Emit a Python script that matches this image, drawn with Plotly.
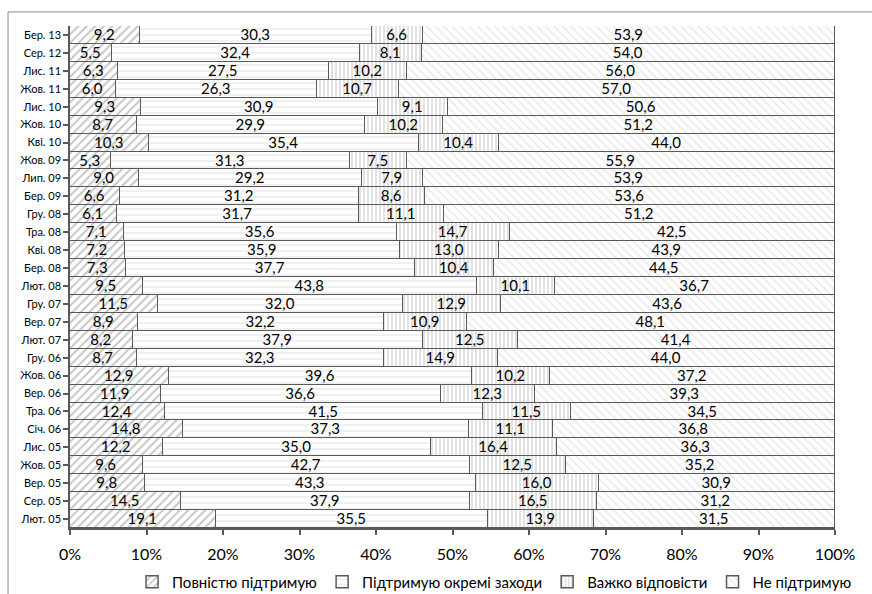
import plotly.graph_objects as go

categories = ["Лют. 05", "Сер. 05", "Вер. 05", "Жов. 05", "Лис. 05", "Січ. 06", "Тра. 06",
              "Вер. 06", "Жов. 06", "Гру. 06", "Лют. 07", "Вер. 07", "Гру. 07", "Лют. 08",
              "Бер. 08", "Кві. 08", "Тра. 08", "Гру. 08", "Бер. 09", "Лип. 09", "Жов. 09",
              "Кві. 10", "Жов. 10", "Лис. 10", "Жов. 11", "Лис. 11", "Сер. 12", "Бер. 13"]

full_support = [19.1, 14.5, 9.8, 9.6, 12.2, 14.8, 12.4, 11.9, 12.9, 8.7, 8.2, 8.9, 11.5, 9.5,
                7.3, 7.2, 7.1, 6.1, 6.6, 9.0, 5.3, 10.3, 8.7, 9.3, 6.0, 6.3, 5.5, 9.2]
partial_support = [35.5, 37.9, 43.3, 42.7, 35.0, 37.3, 41.5, 36.6, 39.6, 32.3, 37.9, 32.2, 32.0, 43.8,
                   37.7, 35.9, 35.6, 31.7, 31.2, 29.2, 31.3, 35.4, 29.9, 30.9, 26.3, 27.5, 32.4, 30.3]
hard_to_say = [13.9, 16.5, 16.0, 12.5, 16.4, 11.1, 11.5, 12.3, 10.2, 14.9, 12.5, 10.9, 12.9, 10.1,
               10.4, 13.0, 14.7, 11.1, 8.6, 7.9, 7.5, 10.4, 10.2, 9.1, 10.7, 10.2, 8.1, 6.6]
no_support = [31.5, 31.2, 30.9, 35.2, 36.3, 36.8, 34.5, 39.3, 37.2, 44.0, 41.4, 48.1, 43.6, 36.7,
              44.5, 43.9, 42.5, 51.2, 53.6, 53.9, 55.9, 44.0, 51.2, 50.6, 57.0, 56.0, 54.0, 53.9]

series_names = ["Повністю підтримую", "Підтримую окремі заходи", "Важко відповісти", "Не підтримую"]
series_values = [full_support, partial_support, hard_to_say, no_support]
patterns = [
    dict(shape="/", fgcolor="#8c8c8c", bgcolor="white", size=6, solidity=0.32, fillmode="overlay"),
    dict(shape="-", fgcolor="#bdbdbd", bgcolor="white", size=6, solidity=0.15, fillmode="overlay"),
    dict(shape="|", fgcolor="#8a8a8a", bgcolor="white", size=4, solidity=0.25, fillmode="overlay"),
    dict(shape="\\", fgcolor="#d8d8d8", bgcolor="white", size=6, solidity=0.3, fillmode="overlay"),
]

font_fam = "Lato, Carlito, sans-serif"

fig = go.Figure()
for name, vals, pat in zip(series_names, series_values, patterns):
    fig.add_trace(go.Bar(
        y=categories, x=vals, name=name, orientation="h",
        text=vals, texttemplate="%{text:.1f}", textposition="inside",
        insidetextanchor="middle", textangle=0, constraintext="none",
        textfont=dict(family=font_fam, size=15, color="black"),
        marker=dict(color="white", pattern=pat, line=dict(color="#5a5a5a", width=1.5)),
    ))

fig.update_layout(
    barmode="stack", barnorm="percent", bargap=0,
    width=872, height=594,
    margin=dict(l=70, r=37, t=26, b=66, autoexpand=False),
    paper_bgcolor="white", plot_bgcolor="white",
    separators=", ",
    font=dict(family=font_fam, color="black"),
    xaxis=dict(range=[0, 100], dtick=10, ticksuffix="%", showgrid=False, zeroline=False,
               showline=True, linecolor="#5a5a5a", linewidth=1.5,
               ticks="outside", ticklen=5, tickcolor="#5a5a5a", tickwidth=1.5,
               ticklabelstandoff=6,
               tickfont=dict(size=16, family=font_fam), automargin=False),
    yaxis=dict(showgrid=False, showline=True, linecolor="#5a5a5a", linewidth=1.5,
               ticks="outside", ticklen=5, tickcolor="#5a5a5a", tickwidth=1.5,
               tickfont=dict(size=11, family=font_fam), range=[-0.5, len(categories) - 0.5],
               automargin=False),
    legend=dict(orientation="h", x=0.555, xanchor="center", yref="container", y=0.02,
                yanchor="middle", font=dict(size=15, family=font_fam), traceorder="normal",
                itemwidth=30, tracegroupgap=0),
    shapes=[
        dict(type="line", xref="paper", yref="paper", x0=-0.081, x1=-0.081, y0=-0.2, y1=1.028,
             line=dict(color="#8a8a8a", width=1)),
        dict(type="line", xref="paper", yref="paper", x0=-0.081, x1=1.1, y0=1.028, y1=1.028,
             line=dict(color="#8a8a8a", width=1)),
    ],
)

fig.write_html("out.html", config={"displayModeBar": False},
               post_script="document.body.style.margin='0';")
